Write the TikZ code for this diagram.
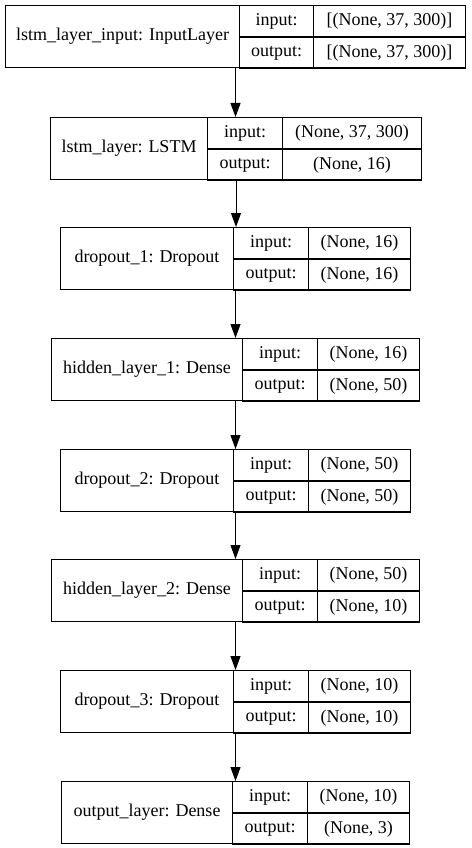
\documentclass[tikz,border=0pt]{standalone}
\usepackage{fontspec}
\setmainfont{Liberation Serif}
\usetikzlibrary{arrows.meta}
\begin{document}
\begin{tikzpicture}
		[x=1pt,y=-1pt,line width=1pt,
		%Styles
		layer box/.style={draw,inner sep=0pt,minimum height=62pt,anchor=north west},
		cell/.style={draw,inner sep=0pt,minimum height=31pt,anchor=north west,font=\fontsize{18}{21}\selectfont},
		flow/.style={-{Triangle[width=10pt,length=14pt]}}
		]
		\useasboundingbox (0,0) rectangle (471,848);
		
		%The layers
		\foreach \nm/\yt/\xa/\xb/\xc/\xd/\lbl/\ishape/\oshape in {
			inp/5/5/239/313/465/{lstm\_layer\_input: InputLayer}/{[(None, 37, 300)]}/{[(None, 37, 300)]},
			lstm/117/50/207/282/421/{lstm\_layer: LSTM}/{(None, 37, 300)}/{(None, 16)},
			drop1/227/60/233/308/410/{dropout\_1: Dropout}/{(None, 16)}/{(None, 16)},
			hid1/338/51/242/317/419/{hidden\_layer\_1: Dense}/{(None, 16)}/{(None, 50)},
			drop2/449/60/233/308/410/{dropout\_2: Dropout}/{(None, 50)}/{(None, 50)},
			hid2/559/51/242/317/419/{hidden\_layer\_2: Dense}/{(None, 50)}/{(None, 10)},
			drop3/670/60/233/308/410/{dropout\_3: Dropout}/{(None, 10)}/{(None, 10)},
			outp/781/61/232/307/409/{output\_layer: Dense}/{(None, 10)}/{(None, 3)}}
		{
			\node[layer box,minimum width={\xd pt-\xa pt}] (\nm) at (\xa,\yt) {};
			\node[cell,minimum height=62pt,minimum width={\xb pt-\xa pt}] (\nm-name) at (\xa,\yt) {\lbl};
			\node[cell,minimum width={\xc pt-\xb pt}] (\nm-inkey) at (\xb,\yt) {input:};
			\node[cell,minimum width={\xc pt-\xb pt}] (\nm-outkey) at (\nm-inkey.south west) {output:};
			\node[cell,minimum width={\xd pt-\xc pt}] (\nm-inval) at (\xc,\yt) {\ishape};
			\node[cell,minimum width={\xd pt-\xc pt}] (\nm-outval) at (\nm-inval.south west) {\oshape};
		}
		
		%The arrows
		\foreach \u/\v in {inp/lstm,lstm/drop1,drop1/hid1,hid1/drop2,drop2/hid2,hid2/drop3,drop3/outp}
			\draw[flow] (\u.south) -- (\u.south |- \v.north);
	\end{tikzpicture}
\end{document}
